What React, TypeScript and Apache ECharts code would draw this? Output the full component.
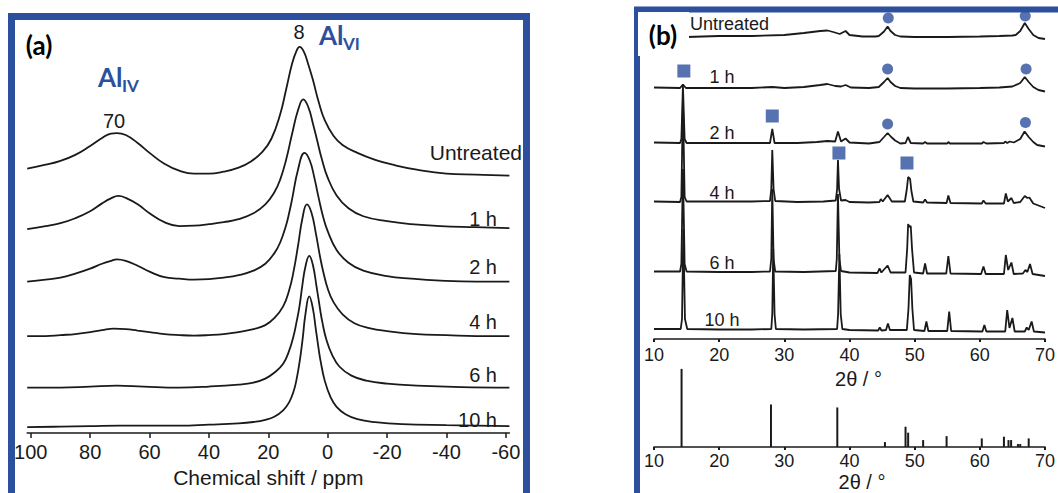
import React, { useEffect, useRef } from "react";
import * as echarts from "echarts";

// ---------- data ----------
const sampleLabels = ["Untreated", "1 h", "2 h", "4 h", "6 h", "10 h"];
const ppmTicks = [100, 80, 60, 40, 20, 0, -20, -40, -60];

// 27Al NMR traces [ppm, stacked intensity]
const nmrUntreated = [[101.2,267],[95,271],[90,275],[85,281],[80,290],[76,298],[73,302.5],[71,303],[68,301],[64,293],[60,283],[55,272],[50,265],[45,262],[40,262],[35,264],[30,268],[26,274],[22,284],[19,297],[16,322],[14,347],[12,373],[10.5,386],[9.5,390],[8,385],[6.5,372],[5,357],[3,334],[1,316],[-2,300],[-5,291],[-10,283],[-16,276],[-22,271],[-30,266],[-40,262],[-50,261],[-61.2,260]];
const nmr1h = [[101.2,206],[95,209],[90,212],[85,217],[80,224],[76,232],[73,237],[70.5,239.5],[68,237.5],[64,231],[60,222],[55,213],[50,209],[45,209.5],[40,211],[35,213],[30,216],[25,222],[21,231],[18,243],[16,256],[14,276],[12,302],[10,326],[8.2,337],[6.5,329],[5,313],[3.5,295],[2,277],[0,258],[-3,240],[-7,227],[-12,219],[-20,214],[-28,211],[-38,209],[-50,208],[-61.2,207]];
const nmr2h = [[101.2,153],[95,155],[90,157],[85,161],[80,166],[76,171],[73,174],[71,175.5],[68,174],[64,169],[60,163],[55,157.5],[50,156],[45,155],[40,155.5],[35,157],[30,159.5],[25,164],[21,171],[18,181.5],[16,192.5],[14,210],[13,222],[12,236],[10,266],[7.8,283],[6,275],[4.5,258],[3,237],[1.5,218],[0,204],[-3,185],[-7,172],[-12,164],[-20,158.5],[-28,156],[-38,154],[-50,153],[-61.2,153]];
const nmr4h = [[101.2,98],[95,98],[90,99],[85,100],[80,102],[76,104],[72,105.5],[68,105],[64,103.5],[60,102],[55,100],[50,99],[45,98.5],[40,99],[35,100],[30,102],[25,105],[21,109],[18,116],[15,128],[13,144],[11.5,163],[10,189],[8.5,217],[7,231],[5.5,223],[4,202],[2.5,177],[1.5,163],[0,146],[-2,132],[-5,120],[-9,111],[-14,106],[-20,103],[-30,100],[-40,99],[-50,98],[-61.2,98]];
const nmr6h = [[101.2,46],[90,46],[80,47],[71,48],[62,47],[50,46],[40,47],[30,49],[25,51],[21,55],[18,61],[15,70],[13,83],[11.5,98],[10.5,112],[9.5,128],[8.5,150],[7.5,168],[6.2,179],[5,170],[3.8,149],[2.5,124],[1.8,112],[0.5,95],[-1.5,79],[-4,67],[-8,58],[-13,53],[-20,50],[-30,48],[-45,46.5],[-61.2,46]];
const nmr10h = [[101.2,6],[90,6.5],[80,7],[70,7.5],[60,7.5],[50,7.5],[40,8.5],[30,9.8],[25,11.2],[21,13.4],[18,16.5],[15,23],[13,31],[11.5,42],[10.5,54],[9.4,73],[8.4,96],[7.5,120],[6.2,138],[5,126],[4,105],[3,84],[2.4,73],[1,53],[-1,36],[-3,26.5],[-6,19],[-10,14],[-16,11],[-25,9],[-40,8],[-61.2,7]];

// XRD traces [2theta, stacked intensity]
const xrdUntreated = [[10,302],[15,302],[20,303],[25,303],[30,304],[33,306],[35.5,308],[36.6,308.5],[37.5,307],[38.5,305],[39.4,308],[40,304],[42,302.5],[44,302.5],[44.5,303],[45.3,307.5],[45.85,312.5],[46.3,308],[47,304],[47.8,302.5],[50,302],[55,302],[60,302.5],[63,303],[65,303.5],[65.5,304],[66.2,308],[66.9,316],[67.5,310],[68.2,304],[69,301],[70,300]];
const xrd1h = [[10,251.5],[14,251],[14.44,254.5],[14.9,251],[20,251],[25,251],[28.15,252],[30,251],[33,252],[35.5,254],[36.6,255],[37.8,253],[38.7,252.5],[39.4,254],[40.2,251.5],[43,251],[44.5,252],[45.3,257],[45.85,261],[46.3,257],[47,253],[47.8,251],[50,250.5],[55,250.5],[60,251],[63,251.5],[65,252.5],[66.2,256],[66.9,262],[67.5,257],[68.2,252],[69,249],[70,247.5]];
const xrd2h = [[10,196.5],[14,196],[14.2,200],[14.44,253],[14.7,200],[15,196],[20,196],[25,196],[27.8,196],[28.15,210],[28.5,196],[32,196],[35,197],[36.6,198],[37.8,197.5],[38.23,207.5],[38.7,197.5],[39.4,200.5],[40,196.5],[43,195.5],[44.6,197],[45.3,202],[45.85,206],[46.4,202],[47,198.5],[47.8,195.5],[48.6,196],[48.97,202],[49.4,196],[51.3,195.5],[51.6,197],[51.9,195.5],[55,195.5],[55.17,197],[55.4,195.5],[60.3,195.5],[60.56,197],[61,195.5],[63.7,196],[63.9,197.5],[64.2,196],[64.6,197.5],[65.2,196.5],[66.2,200],[66.87,207.5],[67.5,202],[68.2,197],[68.8,194],[70,192.5]];
const xrd4h = [[10,137.5],[14,137],[14.2,142],[14.44,239],[14.7,142],[15,137.5],[20,137.5],[25,137.5],[27.8,138],[28.0,150],[28.15,189],[28.35,150],[28.6,138],[32,137],[36,137.5],[37.9,138.5],[38.1,150],[38.23,179],[38.4,150],[38.7,138.5],[39.4,139],[40,137],[43,136.5],[44.6,137],[44.8,140],[45.1,137.5],[45.85,144],[46.5,137.5],[48.5,137.5],[48.8,150],[49.0,162],[49.3,160],[49.5,148],[49.8,137.5],[51.3,136.5],[51.6,139.5],[51.9,136.5],[54.9,136],[55.17,143.5],[55.5,136],[60.3,135.5],[60.56,138.5],[60.9,135.5],[63.7,135.5],[63.99,145.5],[64.3,137.5],[64.85,141],[65.2,136],[66.2,137],[66.9,143],[67.3,141],[67.6,141.5],[68.2,135.5],[70,131]];
const xrd6h = [[10,67.5],[14,67.5],[14.2,75],[14.44,170],[14.7,75],[15,67.5],[20,67],[25,67],[27.8,67.5],[28.0,80],[28.15,150],[28.35,80],[28.6,67.5],[33,67],[37.9,68],[38.05,80],[38.23,145],[38.45,80],[38.7,68],[40,66.5],[44.3,66],[44.6,70.5],[44.9,66.5],[45.85,73.5],[46.3,66.5],[48.6,66.5],[48.85,90],[49.0,115],[49.2,112],[49.4,113],[49.6,90],[49.9,66.5],[51.3,65.5],[51.6,75.5],[51.9,65.5],[54.85,65.5],[55.17,83],[55.5,65.5],[60.2,65],[60.56,72.5],[60.9,65],[63.7,65],[63.99,84],[64.35,69],[64.85,76.5],[65.2,65],[66.6,65.5],[67.0,69],[67.3,67],[67.7,75],[68.1,65],[70,63]];
const xrd10h = [[10,10],[14.1,10],[14.3,20],[14.5,110],[14.75,20],[15.1,10],[20,9.5],[25,9.5],[28.0,10],[28.15,25],[28.3,90],[28.5,25],[28.7,10],[33,9.5],[38.1,10],[38.25,25],[38.45,85],[38.65,25],[38.9,10],[40,9],[44.4,8.5],[44.65,11.5],[44.9,8.5],[45.6,9],[45.9,15.5],[46.2,9],[48.8,9],[49.05,30],[49.25,64],[49.45,60],[49.65,30],[49.9,9],[51.5,8],[51.8,17.5],[52.1,8],[55.0,8],[55.3,27.5],[55.6,8],[60.4,7.5],[60.7,14],[61.0,7.5],[63.9,7.5],[64.2,29],[64.55,11],[65.0,21],[65.35,7.5],[66.9,7.5],[67.2,11.5],[67.5,9],[67.95,17.5],[68.3,7.5],[70,6.5]];

// phase markers [2theta, stacked height]
const circleMarks = [[45.95,321],[45.85,270],[45.85,215],[66.97,323],[67.1,270],[67.0,216.5]];
const squareMarks = [[14.58,268],[28.15,223],[38.38,186],[48.82,176]];

// reference pattern sticks [2theta, intensity]
const refSticks = [[14.23,79],[27.95,43],[38.13,40],[45.44,5],[48.6,20.5],[49.0,14.5],[51.3,7],[54.9,11],[60.3,8.7],[63.7,10.4],[64.4,7],[64.8,7],[65.85,3],[66.2,3],[67.5,8.7]];

// ---------- styling ----------
const BLUE = "#2c4f9e";
const INK = "#1a1a1a";
const SANS = "'Liberation Sans', Arial, sans-serif";
const BOLD = "Lato, 'Open Sans', sans-serif";

function txt(text: string, x: number, y: number, size: number, o: any = {}) {
  const align = o.align || "center";
  return {
    type: "text",
    x,
    y,
    z: 30,
    style: {
      text,
      fontSize: size,
      fontFamily: o.family || SANS,
      fontWeight: o.weight || "normal",
      fill: o.color || INK,
      align,
      textAlign: align,
      verticalAlign: "middle",
      textVerticalAlign: "middle",
    },
  };
}

function buildOption() {
  const nmrData = [nmrUntreated, nmr1h, nmr2h, nmr4h, nmr6h, nmr10h];
  const xrdData = [xrdUntreated, xrd1h, xrd2h, xrd4h, xrd6h, xrd10h];

  const axisCommon = {
    axisLine: { lineStyle: { color: INK, width: 1.5 } },
    splitLine: { show: false },
    nameLocation: "middle",
  };

  const series: any[] = [];
  nmrData.forEach((d, i) =>
    series.push({
      name: "NMR " + sampleLabels[i],
      type: "line",
      xAxisIndex: 0,
      yAxisIndex: 0,
      data: d,
      symbol: "none",
      showSymbol: false,
      smooth: 0.45,
      clip: false,
      silent: true,
      lineStyle: { color: INK, width: 1.8 },
    })
  );
  xrdData.forEach((d, i) =>
    series.push({
      name: "XRD " + sampleLabels[i],
      type: "line",
      xAxisIndex: 1,
      yAxisIndex: 1,
      data: d,
      symbol: "none",
      showSymbol: false,
      clip: false,
      silent: true,
      lineStyle: { color: INK, width: 1.8 },
    })
  );
  series.push({
    type: "scatter",
    xAxisIndex: 1,
    yAxisIndex: 1,
    data: circleMarks,
    symbol: "circle",
    symbolSize: 11,
    silent: true,
    z: 5,
    itemStyle: { color: BLUE },
  });
  series.push({
    type: "scatter",
    xAxisIndex: 1,
    yAxisIndex: 1,
    data: squareMarks,
    symbol: "rect",
    symbolSize: 13,
    silent: true,
    z: 5,
    itemStyle: { color: BLUE },
  });
  series.push({
    type: "bar",
    xAxisIndex: 2,
    yAxisIndex: 2,
    data: refSticks,
    barWidth: 2,
    silent: true,
    itemStyle: { color: INK },
  });

  const nmrLabelY = [152, 219, 267, 322, 375, 420];
  const xrdLabelY = [77, 133, 193, 263, 320];

  const graphics: any[] = [
    {
      type: "rect",
      z: 10,
      shape: { x: 11.5, y: 16.5, width: 515, height: 600 },
      style: { fill: "none", stroke: BLUE, lineWidth: 7 },
    },
    {
      type: "rect",
      z: 10,
      shape: { x: 637, y: 9.5, width: 600, height: 600 },
      style: { fill: "none", stroke: BLUE, lineWidth: 6 },
    },
    {
      type: "rect",
      z: 20,
      shape: { x: 638, y: 12, width: 51, height: 44 },
      style: { fill: "#ffffff" },
    },
    txt("(a)", 39, 45, 26, { family: BOLD, weight: "bold", color: "#000" }),
    txt("(b)", 663, 35, 26, { family: BOLD, weight: "bold", color: "#000" }),
    txt("Al", 98, 77, 26, { family: BOLD, weight: "bold", color: BLUE, align: "left" }),
    txt("IV", 122, 85, 17, { family: BOLD, weight: "bold", color: BLUE, align: "left" }),
    txt("Al", 319, 35, 26, { family: BOLD, weight: "bold", color: BLUE, align: "left" }),
    txt("VI", 343, 43, 17, { family: BOLD, weight: "bold", color: BLUE, align: "left" }),
    txt("70", 114, 121, 20),
    txt("8", 299, 32, 20),
  ];
  sampleLabels.forEach((s, i) => {
    if (i === 0) graphics.push(txt(s, 522, nmrLabelY[i], 21, { align: "right" }));
    else graphics.push(txt(s, 497, nmrLabelY[i], 20, { align: "right" }));
  });
  graphics.push(txt(sampleLabels[0], 690, 23.5, 18, { align: "left" }));
  sampleLabels.slice(1).forEach((s, i) => {
    graphics.push(txt(s, 722, xrdLabelY[i], 18));
  });

  return {
    animation: false,
    backgroundColor: "#ffffff",
    grid: [
      { left: 27.2, top: 37, width: 482.2, height: 400 },
      { left: 654, top: 9, width: 396.7, height: 330 },
      { left: 654, top: 360, width: 396.7, height: 88 },
    ],
    xAxis: [
      {
        ...axisCommon,
        gridIndex: 0,
        type: "value",
        inverse: true,
        min: -61.2,
        max: 101.2,
        axisTick: { customValues: ppmTicks, length: 5, lineStyle: { color: INK, width: 1.5 } },
        axisLabel: { customValues: ppmTicks, fontSize: 20, margin: 9, color: INK, fontFamily: SANS },
        name: "Chemical shift / ppm",
        nameGap: 32,
        nameTextStyle: { fontSize: 21, color: INK, fontFamily: SANS },
      },
      {
        ...axisCommon,
        gridIndex: 1,
        type: "value",
        min: 10,
        max: 70,
        interval: 10,
        axisTick: { length: 3, lineStyle: { color: INK, width: 2 } },
        axisLabel: { fontSize: 18, margin: 7, color: INK, fontFamily: SANS },
        name: "2θ / °",
        nameGap: 26,
        nameTextStyle: { fontSize: 20, color: INK, fontFamily: SANS, padding: [0, 0, 0, 18] },
      },
      {
        ...axisCommon,
        gridIndex: 2,
        type: "value",
        min: 10,
        max: 70,
        interval: 10,
        axisTick: { length: 3, lineStyle: { color: INK, width: 2 } },
        axisLabel: { fontSize: 18, margin: 5, color: INK, fontFamily: SANS },
        name: "2θ / °",
        nameGap: 25,
        nameTextStyle: { fontSize: 20, color: INK, fontFamily: SANS, padding: [0, 0, 0, 25] },
      },
    ],
    yAxis: [
      { gridIndex: 0, type: "value", min: 0, max: 400, show: false },
      { gridIndex: 1, type: "value", min: 0, max: 330, show: false },
      { gridIndex: 2, type: "value", min: 0, max: 88, show: false },
    ],
    graphic: { elements: graphics },
    series,
  };
}

export default function App() {
  const ref = useRef<HTMLDivElement>(null);
  useEffect(() => {
    const chart = echarts.init(ref.current as HTMLDivElement, null, { renderer: "svg" });
    chart.setOption(buildOption() as any);
    return () => chart.dispose();
  }, []);
  return (
    <div
      ref={ref}
      style={{ position: "fixed", left: 0, top: 0, width: 1058, height: 493, background: "#fff" }}
    />
  );
}
